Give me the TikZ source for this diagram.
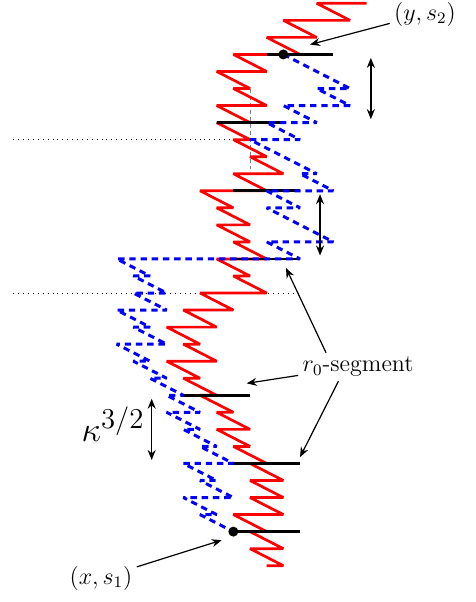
\documentclass[tikz,border=0pt]{standalone}
\usepackage{amsmath}
\usepackage{tikz}
\usetikzlibrary{arrows.meta}
\tikzset{
  walk/.style={red, line width=1.35pt, line join=bevel},
  dualwalk/.style={blue, line width=1.5pt, dash pattern=on 3.2pt off 2.4pt, line join=bevel},
  segment/.style={black, line width=1.4pt},
  level/.style={black, line width=0.45pt, dotted},
  guide/.style={gray, line width=0.5pt, dash pattern=on 2pt off 1.5pt},
  pointer/.style={-{Stealth[length=5pt,width=4pt]}, line width=0.6pt},
  span/.style={{Stealth[length=5pt,width=4pt]}-{Stealth[length=5pt,width=4pt]}, line width=0.8pt},
  lbl/.style={font=\large, inner sep=2pt},
  dot/.style={circle, fill=black, inner sep=0pt, minimum size=5pt}
}

\begin{document}
\begin{tikzpicture}[x=8.333pt,y=-8.52pt]
    \useasboundingbox (0,-0.194) rectangle (28.5,35.13);
    \draw[level] (0.8,8) -- (15,8);
    \draw[level] (0.8,17) -- (18,17);
    \draw[guide] (15,5) -- (15,9.7);
    \draw[walk] (22,0) -- (19,0) -- (21,1) -- (17,1) -- (19,2) -- (16,2) -- (18,3) -- (14,3) -- (16,4) -- (13,4)
      -- (15,5) -- (14,5) -- (16,6) -- (13,6) -- (15,7) -- (13,7) -- (15,8) -- (14,8) -- (16,9) -- (15,9)
      -- (17,10) -- (14,10) -- (16,11) -- (12,11) -- (14,12) -- (13,12) -- (15,13) -- (13,13) -- (15,14) -- (14,14)
      -- (16,15) -- (13,15) -- (15,16) -- (14,16) -- (16,17) -- (12,17) -- (14,18) -- (11,18) -- (13,19) -- (10,19)
      -- (12,20) -- (11,20) -- (13,21) -- (10,21) -- (12,22) -- (11,22) -- (13,23) -- (12,23) -- (14,24) -- (13,24)
      -- (15,25) -- (13,25) -- (15,26) -- (14,26) -- (16,27) -- (15,27) -- (17,28) -- (15,28) -- (17,29) -- (15,29)
      -- (17,30) -- (14,30) -- (16,31) -- (15,31) -- (17,32) -- (15,32) -- (17,33) -- (16,33);
    \draw[segment] (16,3) -- (20,3);
    \draw[segment] (13,7) -- (17,7);
    \draw[segment] (14,11) -- (18,11);
    \draw[segment] (14,15) -- (18,15);
    \draw[segment] (11,23) -- (15,23);
    \draw[segment] (14,27) -- (18,27);
    \draw[segment] (14,31) -- (18,31);
    \draw[dualwalk] (17,3) -- (21,5) -- (19,5) -- (21,6) -- (17,6) -- (19,7) -- (16,7) -- (18,8) -- (15,8)
      -- (17,9) -- (19,10) -- (18,10) -- (20,11) -- (16,11) -- (18,12) -- (16,12) -- (18,13) -- (20,14) -- (16,14)
      -- (18,15) -- (7,15) -- (9,16) -- (8,16) -- (10,17) -- (8,17) -- (10,18) -- (7,18) -- (9,19) -- (8,19)
      -- (10,20) -- (7,20) -- (9,21) -- (8,21) -- (10,22) -- (9,22) -- (11,23) -- (10,23) -- (12,24) -- (10,24)
      -- (12,25) -- (11,25) -- (13,26) -- (12,26) -- (14,27) -- (11,27) -- (13,28) -- (12,28) -- (14,29) -- (11,29)
      -- (13,30) -- (12,30) -- (14,31);
    \node[dot] (ys2dot) at (17,3) {};
    \node[dot] (xs1dot) at (14,31) {};

    \node[lbl] (ys2) at (25.5,0.63) {$(y,s_2)$};
    \node[lbl] (xs1) at (6.06,33.73) {$(x,s_1)$};
    \node[lbl] (r0) at (21.48,21.34) {$r_0$-segment};
    \node[font=\fontsize{19}{22}\selectfont] (kappa) at (6.78,24.69) {$\kappa^{3/2}$};
    \coordinate (ys2tip) at (18.6,2.42);
    \coordinate (xs1tip) at (13.3,31.5);
    \coordinate (r0tipa) at (17.16,15.53);
    \coordinate (r0tipb) at (14.8,22.3);
    \coordinate (r0tipc) at (18,26.63);
    \draw[pointer] (ys2) -- (ys2tip);
    \draw[pointer] (xs1) -- (xs1tip);
    \draw[pointer] (r0.156) -- (r0tipa);
    \draw[pointer] (r0.188) -- (r0tipb);
    \draw[pointer] (r0.216) -- (r0tipc);

    \coordinate (spana) at (22.25,3.2);
    \coordinate (spanb) at (22.25,6.8);
    \coordinate (spanc) at (19.2,11.2);
    \coordinate (spand) at (19.2,14.8);
    \coordinate (spane) at (9.1,23.2);
    \coordinate (spanf) at (9.1,26.8);
    \draw[span] (spana) -- (spanb);
    \draw[span] (spanc) -- (spand);
    \draw[span] (spane) -- (spanf);
\end{tikzpicture}
\end{document}
